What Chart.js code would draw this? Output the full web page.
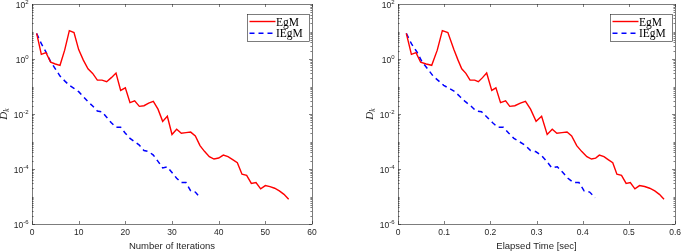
<!DOCTYPE html>
<html>
<head>
<meta charset="utf-8">
<script src="https://cdn.jsdelivr.net/npm/chart.js@4.4.1/dist/chart.umd.min.js"></script>
<style>
  body { margin: 0; background: #fff; }
  canvas { position: absolute; top: 0; }
</style>
</head>
<body>
<canvas id="iterChart" width="340" height="252" style="left:0"></canvas>
<canvas id="timeChart" width="340" height="252" style="left:345px"></canvas>
<script>
// values
const seriesNames = ["EgM", "IEgM"];

const egmValues = [8.5, 1.48, 1.7, 0.76, 0.66, 0.59, 2.1, 10.7, 9.1, 2.2,
  0.91, 0.44, 0.30, 0.17, 0.17, 0.15, 0.21, 0.31, 0.072, 0.089,
  0.026, 0.030, 0.019, 0.020, 0.025, 0.029, 0.015, 0.0054, 0.0083, 0.0018,
  0.0028, 0.0020, 0.0021, 0.0022, 0.0016, 7.1e-4, 4.3e-4, 2.8e-4, 2.3e-4, 2.5e-4,
  3.2e-4, 2.8e-4, 2.2e-4, 1.7e-4, 6.5e-5, 5.9e-5, 3.0e-5, 3.2e-5, 1.9e-5, 2.5e-5,
  2.3e-5, 2.0e-5, 1.6e-5, 1.2e-5, 7.9e-6];

const iegmValues = [8.5, 3.6, 1.8, 0.79, 0.44, 0.24, 0.16, 0.11, 0.085, 0.065,
  0.043, 0.028, 0.0195, 0.0129, 0.012, 0.0076, 0.0048, 0.0033, 0.0033, 0.0020,
  0.0013, 9.8e-4, 7.4e-4, 4.7e-4, 4.3e-4, 3.2e-4, 1.9e-4, 1.1e-4, 1.2e-4, 7.4e-5,
  4.6e-5, 3.2e-5, 3.2e-5, 1.6e-5, 1.45e-5, 9.1e-6];

// elapsed time [sec] at each iteration
const egmTimes = [0.018, 0.029, 0.039, 0.049, 0.061, 0.073, 0.085, 0.096, 0.108, 0.121,
  0.130, 0.138, 0.147, 0.156, 0.166, 0.174, 0.183, 0.192, 0.203, 0.212,
  0.222, 0.233, 0.242, 0.253, 0.265, 0.276, 0.287, 0.299, 0.311, 0.323,
  0.334, 0.344, 0.355, 0.366, 0.376, 0.387, 0.398, 0.409, 0.419, 0.428,
  0.436, 0.446, 0.455, 0.465, 0.474, 0.484, 0.494, 0.503, 0.513, 0.523,
  0.534, 0.545, 0.556, 0.566, 0.576];

const iegmTimes = [0.018, 0.029, 0.041, 0.052, 0.064, 0.076, 0.088, 0.099, 0.111, 0.123,
  0.134, 0.146, 0.158, 0.169, 0.181, 0.193, 0.205, 0.216, 0.228, 0.240,
  0.251, 0.263, 0.275, 0.287, 0.298, 0.310, 0.322, 0.333, 0.345, 0.357,
  0.368, 0.380, 0.392, 0.403, 0.415, 0.427];

const yTickExps = [-6, -4, -2, 0, 2];

const AXIS_COLOR = "#262626";
const SANS = '"Liberation Sans", Arial, sans-serif';
const SERIF = '"Liberation Serif", "Times New Roman", serif';

// draws the MATLAB style box, inward ticks, y labels, D_k and the legend
const matlabAxes = {
  id: "matlabAxes",
  afterDraw(chart) {
    const { ctx, chartArea: a, scales } = chart;
    const x = scales.x, y = scales.y;
    ctx.save();
    ctx.strokeStyle = AXIS_COLOR;
    ctx.lineWidth = 0.6;
    ctx.strokeRect(Math.round(a.left) + 0.5, Math.round(a.top) + 0.5,
      Math.round(a.right - a.left), Math.round(a.bottom - a.top));

    ctx.beginPath();
    x.ticks.forEach((t) => {
      const px = Math.round(x.getPixelForValue(t.value)) + 0.5;
      ctx.moveTo(px, a.bottom); ctx.lineTo(px, a.bottom - 3);
      ctx.moveTo(px, a.top); ctx.lineTo(px, a.top + 3);
    });
    for (let e = -6; e < 2; e++) {
      for (let m = 1; m <= 9; m++) {
        const v = m * Math.pow(10, e);
        const py = Math.round(y.getPixelForValue(v)) + 0.5;
        const len = (m === 1 && e % 2 === 0) ? 3 : 1.6;
        ctx.moveTo(a.left, py); ctx.lineTo(a.left + len, py);
        ctx.moveTo(a.right, py); ctx.lineTo(a.right - len, py);
      }
    }
    ctx.stroke();

    // y tick labels 10^n
    ctx.fillStyle = AXIS_COLOR;
    ctx.textBaseline = "alphabetic";
    ctx.textAlign = "left";
    yTickExps.forEach((e) => {
      const py = y.getPixelForValue(Math.pow(10, e));
      ctx.font = "6px " + SANS;
      const sup = String(e);
      const ws = ctx.measureText(sup).width;
      ctx.font = "8.5px " + SANS;
      const wb = ctx.measureText("10").width;
      const xEnd = a.left - 3.5;
      ctx.fillText("10", xEnd - ws - wb, py + 3.5);
      ctx.font = "6px " + SANS;
      ctx.fillText(sup, xEnd - ws, py - 0.5);
    });

    // y title D_k
    ctx.save();
    ctx.translate(a.left - 29, (a.top + a.bottom) / 2);
    ctx.rotate(-Math.PI / 2);
    ctx.font = "italic 11px " + SERIF;
    const wd = ctx.measureText("D").width;
    ctx.font = "italic 7.5px " + SERIF;
    const wk = ctx.measureText("k").width;
    const x0 = -(wd + wk) / 2;
    ctx.font = "italic 11px " + SERIF;
    ctx.fillText("D", x0, 4);
    ctx.font = "italic 7.5px " + SERIF;
    ctx.fillText("k", x0 + wd, 6);
    ctx.restore();

    // legend
    const bw = 62, bh = 27;
    const bx = Math.round(a.right - 3 - bw) + 0.5, by = Math.round(a.top + 10) + 0.5;
    ctx.fillStyle = "#fff";
    ctx.fillRect(bx, by, bw, bh);
    ctx.strokeStyle = AXIS_COLOR;
    ctx.lineWidth = 0.6;
    ctx.strokeRect(bx, by, bw, bh);
    chart.data.datasets.forEach((ds, i) => {
      const ly = by + 7 + i * 11.7;
      ctx.strokeStyle = ds.borderColor;
      ctx.lineWidth = ds.borderWidth;
      ctx.setLineDash(ds.borderDash || []);
      ctx.beginPath();
      ctx.moveTo(bx + 2, ly); ctx.lineTo(bx + 28, ly);
      ctx.stroke();
      ctx.setLineDash([]);
      ctx.fillStyle = "#000";
      ctx.font = "11.5px " + SERIF;
      ctx.fillText(ds.label, bx + 28.5, ly + 4);
    });
    ctx.restore();
  }
};

function makeChart(id, egmX, iegmX, xMax, xStep, xTitle, leftPad, rightPad, fmt) {
  const egmPts = egmValues.map((v, i) => ({ x: egmX(i), y: v }));
  const iegmPts = iegmValues.map((v, i) => ({ x: iegmX(i), y: v }));
  return new Chart(document.getElementById(id).getContext("2d"), {
    type: "line",
    data: {
      datasets: [
        { label: seriesNames[0], data: egmPts, borderColor: "#ff0000", borderWidth: 1.4,
          pointRadius: 0, tension: 0, fill: false },
        { label: seriesNames[1], data: iegmPts, borderColor: "#0000ff", borderWidth: 1.5,
          borderDash: [5, 4], pointRadius: 0, tension: 0, fill: false }
      ]
    },
    options: {
      responsive: false,
      animation: false,
      layout: { padding: { top: 4, right: rightPad, left: 0, bottom: 0 } },
      plugins: { legend: { display: false }, tooltip: { enabled: false } },
      scales: {
        x: {
          type: "linear", min: 0, max: xMax,
          grid: { display: false, drawTicks: false },
          border: { display: false },
          ticks: { stepSize: xStep, color: AXIS_COLOR, padding: 4,
            font: { family: SANS, size: 8.5 }, callback: fmt, maxRotation: 0 },
          title: { display: true, text: xTitle, color: AXIS_COLOR,
            font: { family: SANS, size: 9.5 }, padding: { top: 0, bottom: 0 } },
          afterFit: (s) => { s.height = 28; }
        },
        y: {
          type: "logarithmic", min: 1e-6, max: 1e2,
          grid: { display: false, drawTicks: false },
          border: { display: false },
          ticks: { display: false },
          afterFit: (s) => { s.width = leftPad; }
        }
      }
    },
    plugins: [matlabAxes]
  });
}

makeChart("iterChart", (i) => i + 1, (i) => i + 1, 60, 10, "Number of Iterations",
  32, 28, (v) => String(v));
makeChart("timeChart", (i) => egmTimes[i], (i) => iegmTimes[i], 0.6, 0.1, "Elapsed Time [sec]",
  53, 7, (v) => (v === 0 ? "0" : v.toFixed(1)));
</script>
</body>
</html>
